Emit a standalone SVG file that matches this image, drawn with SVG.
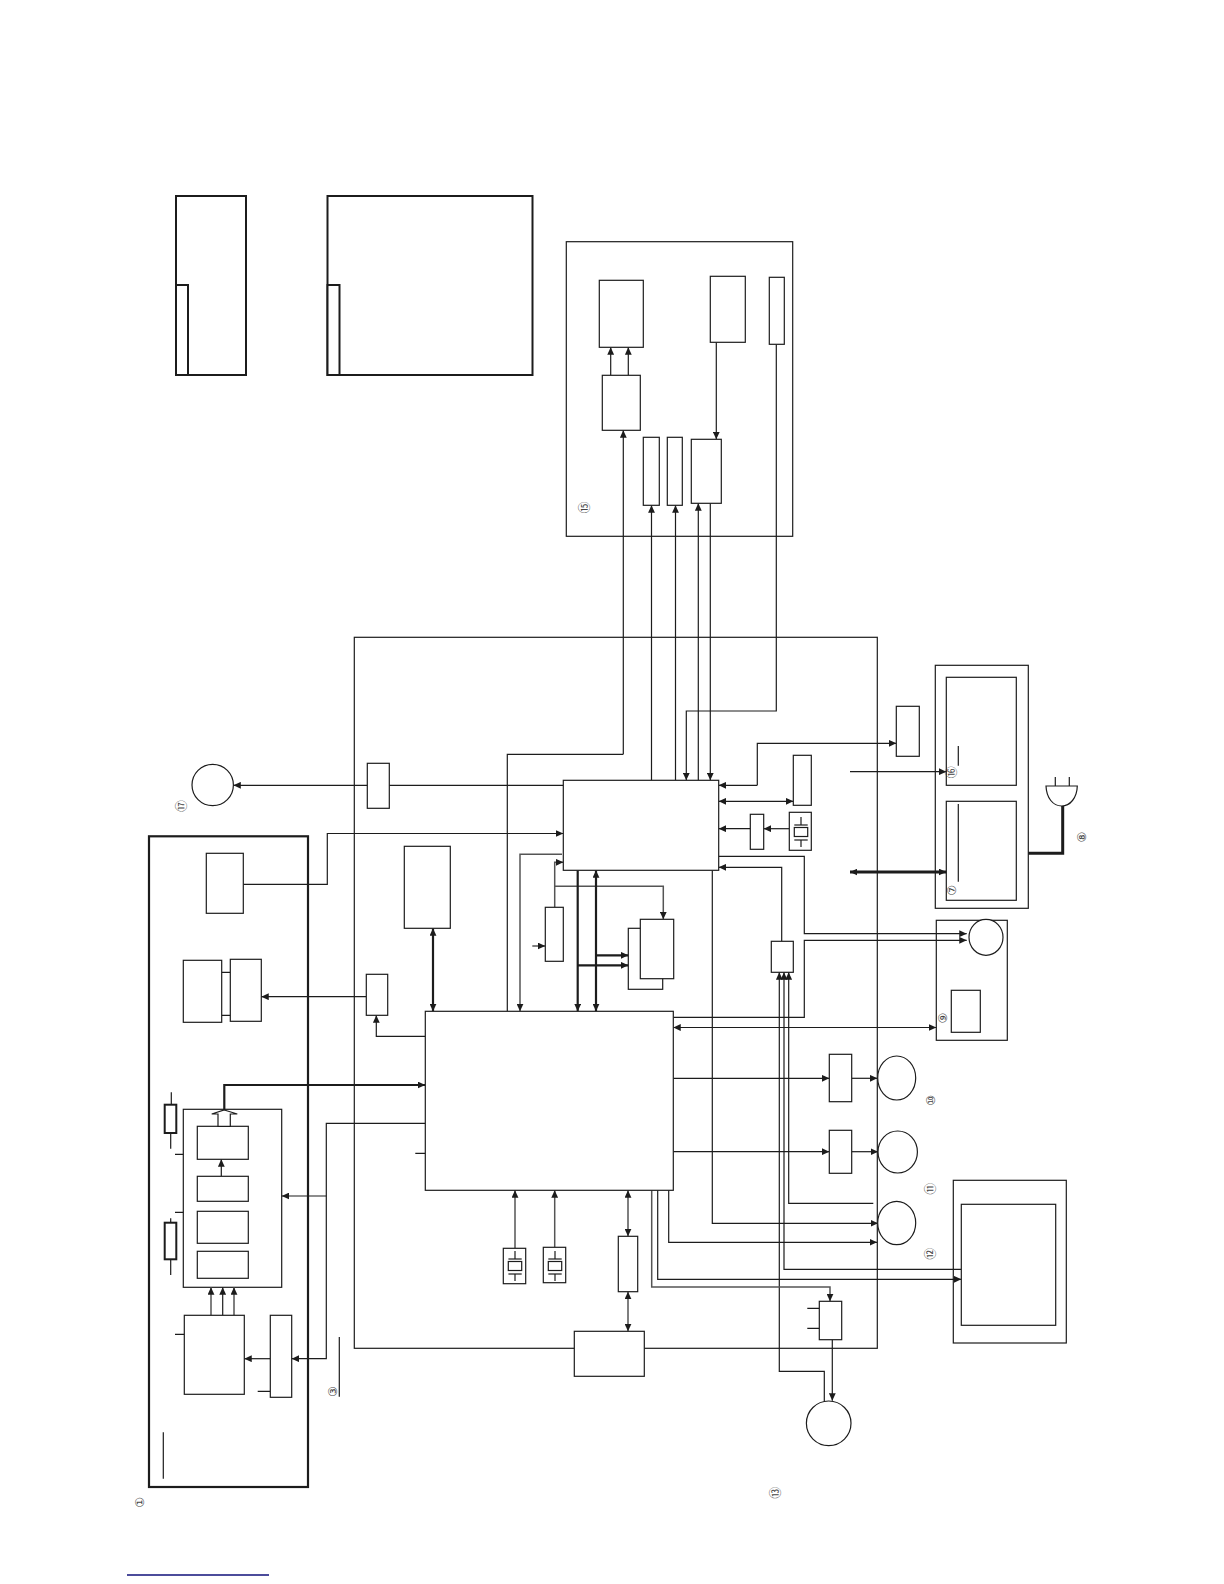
<svg xmlns="http://www.w3.org/2000/svg" width="1224" height="1584" viewBox="0 0 1224 1584">
<style>
.b{fill:#fff;stroke:#1c1c1c;stroke-width:1.2}
.c{fill:none;stroke:#1c1c1c;stroke-width:1.2}
.k{fill:none;stroke:#1c1c1c;stroke-width:2.2}
.t{fill:#fff;stroke:#1c1c1c;stroke-width:2}
.w{fill:none;stroke:#1c1c1c;stroke-width:1.2}
.g{fill:none;stroke:#555;stroke-width:1.5}
.h{fill:none;stroke:#1c1c1c;stroke-width:2.2}
.a{marker-end:url(#ah)}
.d{marker-end:url(#ah);marker-start:url(#ah)}
.l{font-family:"DejaVu Sans","Noto Sans CJK JP",sans-serif;font-size:12px;fill:#444;text-anchor:middle;dominant-baseline:central}
</style>
<defs>
<marker id="ah" markerUnits="userSpaceOnUse" markerWidth="8" markerHeight="7" refX="6.5" refY="3" orient="auto-start-reverse" viewBox="0 0 7 6"><path d="M0 0L6.5 3L0 6Z" fill="#1c1c1c"/></marker>
<g id="xtal"><line class="c" x1="0" y1="-15" x2="0" y2="-7"/><line class="c" x1="-6.7" y1="-7" x2="6.7" y2="-7"/><rect class="b" x="-6.7" y="-4.5" width="13.4" height="9"/><line class="c" x1="-6.7" y1="8" x2="6.7" y2="8"/><line class="c" x1="0" y1="8" x2="0" y2="15"/></g>
</defs>
<rect width="1224" height="1584" fill="#fff"/>

<g id="top-box-left"><rect class="t" x="176" y="196" width="70" height="179"/><rect class="t" x="176" y="285" width="12" height="90"/></g>
<g id="top-box-right"><rect class="t" x="327.5" y="196" width="205" height="179"/><rect class="t" x="327.5" y="285" width="12" height="90"/></g>

<g id="containers">
<rect class="c" x="566.3" y="241.7" width="226.4" height="294.6"/>
<rect class="c" x="354.3" y="637.3" width="523" height="711"/>
<rect class="k" x="149" y="836.3" width="159" height="650.7"/>
<rect class="c" x="935.3" y="665.3" width="93" height="243"/>
<rect class="c" x="936.3" y="920.3" width="71" height="120"/>
<rect class="c" x="953.3" y="1180.3" width="113" height="162.7"/>
<rect class="c" x="183.3" y="1109.3" width="98.4" height="178"/>
</g>

<g id="connectors">
<path class="w a" d="M623.3 754.3V430.3"/><path class="c" d="M623.3 754.3H507.3V1011.3"/>
<path class="w a" d="M610.7 375.3V347.3"/><path class="w a" d="M628.3 375.3V347.3"/>
<path class="w a" d="M716.3 342.3V439.3"/>
<path class="w a" d="M651.5 780.3V505.3"/><path class="w a" d="M675.5 780.3V505.3"/><path class="w a" d="M698.3 780.3V503.3"/>
<path class="w a" d="M776.3 344.3V711H686.3V780.3"/>
<path class="w a" d="M710.3 503.3V780.3"/>
<path class="w a" d="M563.3 785.3H233.4"/>
<path class="w a" d="M243.3 884.3H327.3V833.5H563.3"/>
<path class="w a" d="M366.3 996.7H261.3"/>
<path class="w a" d="M425.3 1036.3H376.3V1015.3"/>
<path class="k d" d="M433 928.3V1011.3"/>
<path class="h a" d="M224.3 1110V1085H425.3"/>
<path class="w a" d="M425.3 1123.3H326.3V1358.7H291.7"/>
<path class="w a" d="M326.3 1196H281.7"/>
<path class="w a" d="M270.3 1358.7H244.3"/>
<path class="w a" d="M221.3 1176.3V1159.3"/>
<path class="g a" d="M211 1315.3V1287.3"/><path class="w a" d="M222.7 1315.3V1287.3"/><path class="g a" d="M234 1315.3V1287.3"/>
<path class="c" d="M175 1154.3H183.3M175 1212.3H183.3M175 1334.3H184.3M257.7 1391.3H270.3M415.3 1153.3H425.3M171.3 1092.3V1104.7M170.7 1133V1148.7M170.7 1218.3V1222.7M170.7 1259.3V1275"/>
<path class="c" d="M163.3 1432.3V1478.7M339.3 1337V1396.7"/>
<path class="w a" d="M757.3 785.3V743.3H896.3"/>
<path class="w a" d="M757.3 785.3H718.7"/>
<path class="w d" d="M718.7 801.3H793.3"/>
<path class="w a" d="M750.3 828.7H718.7"/><path class="w a" d="M789.3 828.7H763.7"/>
<path class="w a" d="M718.7 856.3H804.3V933.7H966.7"/>
<path class="w a" d="M673.3 1017.3H804.3V940.3H966.7"/>
<path class="w a" d="M781.7 941.3V867.3H718.7"/>
<path class="w a" d="M824.3 1401V1371.3H779.3V972.3"/>
<path class="w a" d="M961.3 1269.3H784V972.3"/>
<path class="w a" d="M873.3 1203.3H788.7V972.3"/>
<path class="w a" d="M712.3 870.3V1223.3H878"/>
<path class="w a" d="M668.7 1190.3V1242.3H877"/>
<path class="w a" d="M657.7 1190.3V1279.3H961.3"/>
<path class="g a" d="M651.7 1190.3V1287H830V1301.3"/>
<path class="c" d="M807.3 1308.3H819.3M807.3 1328.3H819.3"/>
<path class="w a" d="M832.3 1339.7V1400.7"/>
<path class="g a" d="M515 1248.3V1190.3"/><path class="g a" d="M554.7 1247.3V1190.3"/>
<path class="g d" d="M628 1190.3V1236.3"/><path class="g d" d="M628 1291.7V1331.3"/>
<path class="w a" d="M673.3 1078.3H829.3"/><path class="w a" d="M851.7 1078.3H877.3"/>
<path class="w a" d="M673.3 1151.7H829.3"/><path class="w a" d="M851.7 1151.7H878"/>
<path class="w a" d="M850 771.7H946.3"/>
<path class="d" fill="none" stroke="#1c1c1c" stroke-width="3" d="M850 872H946.3"/>
<path class="w d" d="M673.3 1027.5H936.3"/>
<path d="M1028.3 853.3H1062.7V806" fill="none" stroke="#1c1c1c" stroke-width="3"/>
<path class="g a" d="M562 854.3H520V1011.3"/>
<path class="g a" d="M554.7 907.3V862.3H563.3"/>
<path class="g a" d="M554.7 886.3H663.3V919.3"/>
<path class="g a" d="M532.3 946H545.3"/>
<path class="k a" d="M577.7 870.3V1011.3"/>
<path class="k d" d="M596 870.3V1011.3"/>
<path class="h a" d="M596 955.3H628.3"/>
<path class="h a" d="M577.7 965.3H628.3"/>
<path class="c" d="M221.7 972.3H230.3M221.7 1015.3H230.3"/>
</g>

<g id="main-ic"><rect class="b" x="425.3" y="1011.3" width="248" height="179"/></g>
<g id="mcu"><rect class="b" x="563.3" y="780.3" width="155.4" height="90"/></g>
<g id="n-a"><rect class="b" x="599.3" y="280.3" width="44" height="67"/></g>
<g id="n-b"><rect class="b" x="602.3" y="375.3" width="38" height="55"/></g>
<g id="n-c"><rect class="b" x="643.3" y="437.3" width="16" height="68"/></g>
<g id="n-d"><rect class="b" x="667.3" y="437.3" width="15" height="68"/></g>
<g id="n-e"><rect class="b" x="691.3" y="439.3" width="30" height="64"/></g>
<g id="n-f"><rect class="b" x="710.3" y="276.3" width="35" height="66"/></g>
<g id="n-g"><rect class="b" x="769.3" y="277.3" width="15" height="67"/></g>
<g id="n-17-drv"><rect class="b" x="367.3" y="763.3" width="22" height="45"/></g>
<g id="n-17-circle"><circle class="b" cx="212.7" cy="785" r="20.7"/></g>
<g id="n-tuner-a"><rect class="b" x="206.3" y="853.3" width="37" height="60"/></g>
<g id="n-h"><rect class="b" x="183.3" y="960.3" width="38.4" height="62"/></g>
<g id="n-i"><rect class="b" x="230.3" y="959.3" width="31" height="62"/></g>
<g id="n-j"><rect class="b" x="366.3" y="974.3" width="21.4" height="41"/></g>
<g id="n-k"><rect class="b" x="404.3" y="846.3" width="46" height="82"/></g>
<g id="n-l1"><rect class="b" x="197.3" y="1126.3" width="51" height="33"/></g>
<g id="n-l2"><rect class="b" x="197.3" y="1176.3" width="51" height="25"/></g>
<g id="n-l3"><rect class="b" x="197.3" y="1211.3" width="51" height="32"/></g>
<g id="n-l4"><rect class="b" x="197.3" y="1251.3" width="51" height="27"/></g>
<g id="n-hollow"><path class="b" d="M224.3 1110L237.3 1114H230.3V1126.3H218V1114H211.7Z"/></g>
<g id="n-m"><rect class="b" x="184.3" y="1315.3" width="60" height="79"/></g>
<g id="n-n"><rect class="b" x="270.3" y="1315.3" width="21.4" height="82"/></g>
<g id="n-r1"><rect class="t" x="164.7" y="1104.7" width="11.6" height="28.3"/></g>
<g id="n-r2"><rect class="t" x="164.7" y="1222.7" width="11.6" height="36.6"/></g>
<g id="n-o"><rect class="b" x="896.3" y="706.3" width="23" height="50"/></g>
<g id="n-p"><rect class="b" x="793.3" y="755.3" width="18" height="50"/></g>
<g id="n-q"><rect class="b" x="750.3" y="814.3" width="13.4" height="35"/></g>
<g id="xtal-1"><rect class="b" x="789.3" y="812.3" width="22" height="38"/><use href="#xtal" x="801" y="832"/></g>
<g id="n-s"><rect class="b" x="545.3" y="907.3" width="18" height="54"/></g>
<g id="n-mem-back"><rect class="b" x="628.3" y="928.3" width="34.4" height="61"/></g>
<g id="n-mem-front"><rect class="b" x="640.3" y="919.3" width="33.4" height="59.4"/></g>
<g id="n-t"><rect class="b" x="771.3" y="941.3" width="22" height="31"/></g>
<g id="n-u"><rect class="b" x="829.3" y="1054.3" width="22.4" height="47.4"/></g>
<g id="n-v"><rect class="b" x="829.3" y="1130.3" width="22.4" height="43"/></g>
<g id="motor-10"><ellipse class="b" cx="896.7" cy="1078" rx="19" ry="22"/></g>
<g id="motor-11"><ellipse class="b" cx="897.7" cy="1152" rx="19.7" ry="21"/></g>
<g id="motor-12"><ellipse class="b" cx="896.7" cy="1223" rx="19" ry="21.7"/></g>
<g id="n-w"><rect class="b" x="961.3" y="1204.3" width="94.4" height="121"/></g>
<g id="n-x"><rect class="b" x="819.3" y="1301.3" width="22.4" height="38.4"/></g>
<g id="circle-13"><circle class="b" cx="828.7" cy="1423.3" r="22.3"/></g>
<g id="xtal-2"><rect class="b" x="503.3" y="1248.3" width="22.4" height="35.4"/><use href="#xtal" x="515" y="1266"/></g>
<g id="xtal-3"><rect class="b" x="543.3" y="1247.3" width="22.4" height="35.4"/><use href="#xtal" x="555" y="1266"/></g>
<g id="n-y"><rect class="b" x="618.3" y="1236.3" width="19.4" height="55.4"/></g>
<g id="n-z"><rect class="b" x="574.3" y="1331.3" width="70" height="45"/></g>
<g id="psu-upper"><rect class="c" x="946.3" y="677.3" width="70" height="108"/><path class="c" d="M958.3 746V765.7"/></g>
<g id="psu-lower"><rect class="c" x="946.3" y="801.3" width="70" height="99"/><path class="c" d="M958.3 804V881.7"/></g>
<g id="plug"><path class="c" d="M1046 786H1077.3C1077 798 1070 806 1061.7 806C1053 806 1046.5 798 1046 786ZM1055.3 777V786M1069.3 777V786"/></g>
<g id="fan"><ellipse class="b" cx="986" cy="937.3" rx="17" ry="18"/><rect class="b" x="951.3" y="990.3" width="29" height="42"/></g>

<line x1="127" y1="1575" x2="269" y2="1575" stroke="#10107a" stroke-width="1.5"/>

<g id="labels">
<text class="l" transform="translate(140.3 1502.3) rotate(-90)">①</text>
<text class="l" transform="translate(333 1391.7) rotate(-90)">③</text>
<text class="l" transform="translate(182.3 806) rotate(-90)">⑰</text>
<text class="l" transform="translate(951.7 890.3) rotate(-90)">⑦</text>
<text class="l" transform="translate(951.7 772.3) rotate(-90)">⑯</text>
<text class="l" transform="translate(1081.7 837) rotate(-90)">⑧</text>
<text class="l" transform="translate(942.7 1018) rotate(-90)">⑨</text>
<text class="l" transform="translate(931 1100.3) rotate(-90)">⑩</text>
<text class="l" transform="translate(931 1188.7) rotate(-90)">⑪</text>
<text class="l" transform="translate(931 1253.7) rotate(-90)">⑫</text>
<text class="l" transform="translate(776 1492.7) rotate(-90)">⑬</text>
<text class="l" transform="translate(584.5 507.5) rotate(-90)">⑮</text>
</g>
</svg>
